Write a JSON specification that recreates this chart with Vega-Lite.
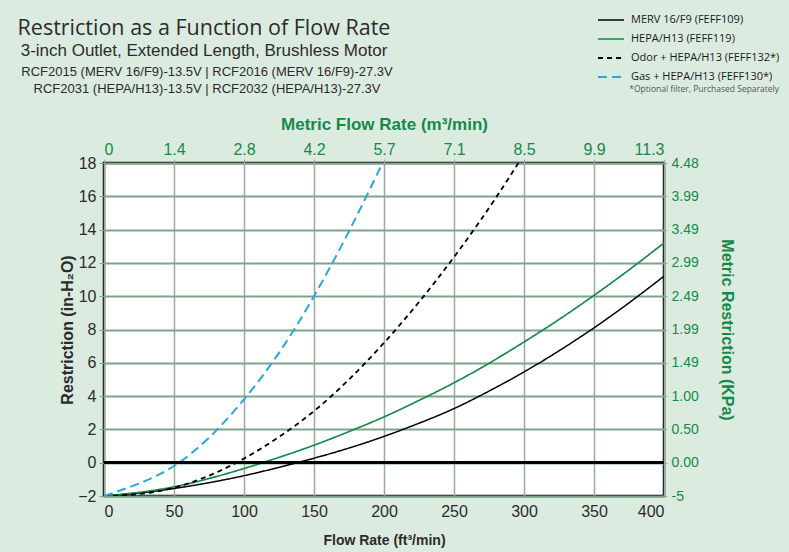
{
  "$schema": "https://vega.github.io/schema/vega-lite/v6.json",
  "autosize": {"type": "none"},
  "padding": {"left": 104, "top": 163, "right": 125, "bottom": 56},
  "width": 560,
  "height": 333,
  "background": "#dcebe0",
  "title": {
    "text": "Restriction as a Function of Flow Rate",
    "subtitle": "3-inch Outlet, Extended Length, Brushless Motor",
    "anchor": "start",
    "align": "center",
    "frame": "group",
    "dx": 100,
    "offset": -53,
    "font": "Open Sans",
    "fontSize": 21.5,
    "fontWeight": "normal",
    "color": "#2b2b2b",
    "subtitleFont": "Liberation Sans",
    "subtitleFontSize": 17,
    "subtitleColor": "#2b2b2b",
    "subtitlePadding": 4
  },
  "config": {
    "view": {"fill": "white", "stroke": "black", "strokeWidth": 2.5},
    "axis": {"labelFont": "Liberation Sans", "titleFont": "Liberation Sans"}
  },
  "data": {"values": [
    {"filter": "MERV 16/F9 (FEFF109)", "flow": 0, "r": -2},
    {"filter": "MERV 16/F9 (FEFF109)", "flow": 25, "r": -1.82},
    {"filter": "MERV 16/F9 (FEFF109)", "flow": 50, "r": -1.55},
    {"filter": "MERV 16/F9 (FEFF109)", "flow": 75, "r": -1.2},
    {"filter": "MERV 16/F9 (FEFF109)", "flow": 100, "r": -0.78},
    {"filter": "MERV 16/F9 (FEFF109)", "flow": 125, "r": -0.28},
    {"filter": "MERV 16/F9 (FEFF109)", "flow": 150, "r": 0.27},
    {"filter": "MERV 16/F9 (FEFF109)", "flow": 175, "r": 0.88},
    {"filter": "MERV 16/F9 (FEFF109)", "flow": 200, "r": 1.58},
    {"filter": "MERV 16/F9 (FEFF109)", "flow": 225, "r": 2.37},
    {"filter": "MERV 16/F9 (FEFF109)", "flow": 250, "r": 3.25},
    {"filter": "MERV 16/F9 (FEFF109)", "flow": 275, "r": 4.3},
    {"filter": "MERV 16/F9 (FEFF109)", "flow": 300, "r": 5.45},
    {"filter": "MERV 16/F9 (FEFF109)", "flow": 325, "r": 6.72},
    {"filter": "MERV 16/F9 (FEFF109)", "flow": 350, "r": 8.1},
    {"filter": "MERV 16/F9 (FEFF109)", "flow": 375, "r": 9.6},
    {"filter": "MERV 16/F9 (FEFF109)", "flow": 400, "r": 11.2},
    {"filter": "HEPA/H13 (FEFF119)", "flow": 0, "r": -2},
    {"filter": "HEPA/H13 (FEFF119)", "flow": 25, "r": -1.78},
    {"filter": "HEPA/H13 (FEFF119)", "flow": 50, "r": -1.45},
    {"filter": "HEPA/H13 (FEFF119)", "flow": 75, "r": -0.95},
    {"filter": "HEPA/H13 (FEFF119)", "flow": 100, "r": -0.35},
    {"filter": "HEPA/H13 (FEFF119)", "flow": 125, "r": 0.32},
    {"filter": "HEPA/H13 (FEFF119)", "flow": 150, "r": 1.05},
    {"filter": "HEPA/H13 (FEFF119)", "flow": 175, "r": 1.87},
    {"filter": "HEPA/H13 (FEFF119)", "flow": 200, "r": 2.75},
    {"filter": "HEPA/H13 (FEFF119)", "flow": 225, "r": 3.74},
    {"filter": "HEPA/H13 (FEFF119)", "flow": 250, "r": 4.8},
    {"filter": "HEPA/H13 (FEFF119)", "flow": 275, "r": 5.97},
    {"filter": "HEPA/H13 (FEFF119)", "flow": 300, "r": 7.25},
    {"filter": "HEPA/H13 (FEFF119)", "flow": 325, "r": 8.6},
    {"filter": "HEPA/H13 (FEFF119)", "flow": 350, "r": 10.05},
    {"filter": "HEPA/H13 (FEFF119)", "flow": 375, "r": 11.58},
    {"filter": "HEPA/H13 (FEFF119)", "flow": 400, "r": 13.2},
    {"filter": "Odor + HEPA/H13 (FEFF132*)", "flow": 0, "r": -2},
    {"filter": "Odor + HEPA/H13 (FEFF132*)", "flow": 25, "r": -1.88},
    {"filter": "Odor + HEPA/H13 (FEFF132*)", "flow": 50, "r": -1.5},
    {"filter": "Odor + HEPA/H13 (FEFF132*)", "flow": 75, "r": -0.78},
    {"filter": "Odor + HEPA/H13 (FEFF132*)", "flow": 100, "r": 0.25},
    {"filter": "Odor + HEPA/H13 (FEFF132*)", "flow": 125, "r": 1.55},
    {"filter": "Odor + HEPA/H13 (FEFF132*)", "flow": 150, "r": 3.1},
    {"filter": "Odor + HEPA/H13 (FEFF132*)", "flow": 175, "r": 5.0},
    {"filter": "Odor + HEPA/H13 (FEFF132*)", "flow": 200, "r": 7.2},
    {"filter": "Odor + HEPA/H13 (FEFF132*)", "flow": 225, "r": 9.65},
    {"filter": "Odor + HEPA/H13 (FEFF132*)", "flow": 250, "r": 12.35},
    {"filter": "Odor + HEPA/H13 (FEFF132*)", "flow": 275, "r": 15.3},
    {"filter": "Odor + HEPA/H13 (FEFF132*)", "flow": 296, "r": 18},
    {"filter": "Gas + HEPA/H13 (FEFF130*)", "flow": 0, "r": -2},
    {"filter": "Gas + HEPA/H13 (FEFF130*)", "flow": 25, "r": -1.25},
    {"filter": "Gas + HEPA/H13 (FEFF130*)", "flow": 50, "r": -0.2},
    {"filter": "Gas + HEPA/H13 (FEFF130*)", "flow": 75, "r": 1.5},
    {"filter": "Gas + HEPA/H13 (FEFF130*)", "flow": 100, "r": 3.8},
    {"filter": "Gas + HEPA/H13 (FEFF130*)", "flow": 125, "r": 6.6},
    {"filter": "Gas + HEPA/H13 (FEFF130*)", "flow": 150, "r": 10.0},
    {"filter": "Gas + HEPA/H13 (FEFF130*)", "flow": 175, "r": 13.9},
    {"filter": "Gas + HEPA/H13 (FEFF130*)", "flow": 199, "r": 18}
  ]},
  "resolve": {"axis": {"x": "independent", "y": "independent"}},
  "layer": [
    {
      "mark": {"type": "line", "interpolate": "natural", "clip": true},
      "encoding": {
        "x": {"field": "flow", "type": "quantitative",
              "scale": {"domain": [0, 400], "nice": false, "zero": false},
              "axis": {"orient": "bottom", "values": [0,50,100,150,200,250,300,350,400],
                       "title": "Flow Rate (ft³/min)", "titleFontSize": 14, "titleFontWeight": "bold", "titleColor": "#2b2b2b", "titlePadding": 14,
                       "labelFontSize": 16, "labelColor": "#2b2b2b", "labelPadding": 7,
                       "tickSize": 0, "domain": false,
                       "grid": true, "gridColor": "#9aaba0", "gridWidth": 1.5}},
        "y": {"field": "r", "type": "quantitative",
              "scale": {"domain": [-2, 18], "nice": false, "zero": false},
              "axis": {"orient": "left", "values": [-2,0,2,4,6,8,10,12,14,16,18],
                       "title": "Restriction (in-H₂O)", "titleFontSize": 16, "titleFontWeight": "bold", "titleColor": "#2b2b2b", "titlePadding": 2,
                       "labelFontSize": 16, "labelColor": "#2b2b2b", "labelPadding": 3,
                       "tickSize": 5, "tickColor": "#7da58c", "domain": false,
                       "grid": true, "gridColor": "#7da58c", "gridWidth": 2.2}},
        "color": {"field": "filter", "type": "nominal",
                  "scale": {"domain": ["MERV 16/F9 (FEFF109)", "HEPA/H13 (FEFF119)", "Odor + HEPA/H13 (FEFF132*)", "Gas + HEPA/H13 (FEFF130*)"],
                            "range": ["#000000", "#16894a", "#000000", "#2aa6df"]},
                  "legend": {"orient": "none", "legendX": 493, "legendY": -157,
                             "title": "*Optional filter, Purchased Separately", "titleOrient": "bottom",
                             "titleFont": "Open Sans", "titleFontSize": 8.5, "titleFontWeight": "normal", "titleColor": "#555555",
                             "titleAnchor": "end", "titlePadding": 3,
                             "labelFont": "Open Sans", "labelFontSize": 11, "labelColor": "#1a1a1a",
                             "symbolType": "stroke", "symbolSize": 676, "symbolStrokeWidth": 1.8,
                             "rowPadding": -5, "labelOffset": 6}},
        "strokeDash": {"field": "filter", "type": "nominal",
                       "scale": {"domain": ["MERV 16/F9 (FEFF109)", "HEPA/H13 (FEFF119)", "Odor + HEPA/H13 (FEFF132*)", "Gas + HEPA/H13 (FEFF130*)"],
                                 "range": [[1, 0], [1, 0], [5, 4], [9, 5]]}},
        "strokeWidth": {"field": "filter", "type": "nominal",
                        "scale": {"domain": ["MERV 16/F9 (FEFF109)", "HEPA/H13 (FEFF119)", "Odor + HEPA/H13 (FEFF132*)", "Gas + HEPA/H13 (FEFF130*)"],
                                  "range": [1.5, 2, 1.5, 2]}}
      }
    },
    {
      "mark": {"type": "rule", "color": "black", "strokeWidth": 2.5},
      "encoding": {"y": {"datum": 0, "type": "quantitative", "axis": null}}
    },
    {
      "mark": {"type": "point", "opacity": 0},
      "encoding": {
        "x": {"field": "flow", "type": "quantitative",
              "axis": {"orient": "top", "values": [0,50,100,150,200,250,300,350,400],
                       "labelExpr": "['0','1.4','2.8','4.2','5.7','7.1','8.5','9.9','11.3'][round(datum.value/50)]",
                       "title": "Metric Flow Rate (m³/min)", "titleFontSize": 17, "titleFontWeight": "bold", "titleColor": "#16894a", "titlePadding": 8,
                       "labelFontSize": 16, "labelColor": "#16894a", "labelPadding": 2,
                       "tickSize": 4, "tickColor": "#9aaba0", "domain": false, "grid": false}},
        "y": {"field": "r", "type": "quantitative",
              "axis": {"orient": "right", "values": [-2,0,2,4,6,8,10,12,14,16,18],
                       "labelExpr": "['-5','0.00','0.50','1.00','1.49','1.99','2.49','2.99','3.49','3.99','4.48'][round((datum.value+2)/2)]",
                       "title": "Metric Restriction (KPa)", "titleFontSize": 16, "titleFontWeight": "bold", "titleColor": "#16894a", "titlePadding": 20, "titleAngle": 90,
                       "labelFontSize": 14, "labelColor": "#16894a", "labelPadding": 4,
                       "tickSize": 3, "tickColor": "#9aaba0", "domain": false, "grid": false}},
        "size": {"field": "flow", "type": "quantitative",
                 "legend": {"orient": "none", "legendX": -83, "legendY": -97, "values": [0],
                            "title": ["RCF2015 (MERV 16/F9)-13.5V | RCF2016 (MERV 16/F9)-27.3V", "RCF2031 (HEPA/H13)-13.5V | RCF2032 (HEPA/H13)-27.3V"],
                            "titleFont": "Liberation Sans", "titleFontSize": 13, "titleFontWeight": "normal", "titleColor": "#2b2b2b",
                            "titleAlign": "center", "titleAnchor": "middle", "titleLineHeight": 17, "titleLimit": 600, "padding": 0,
                            "symbolOpacity": 0, "labelExpr": "''"}}
      }
    }
  ]
}
